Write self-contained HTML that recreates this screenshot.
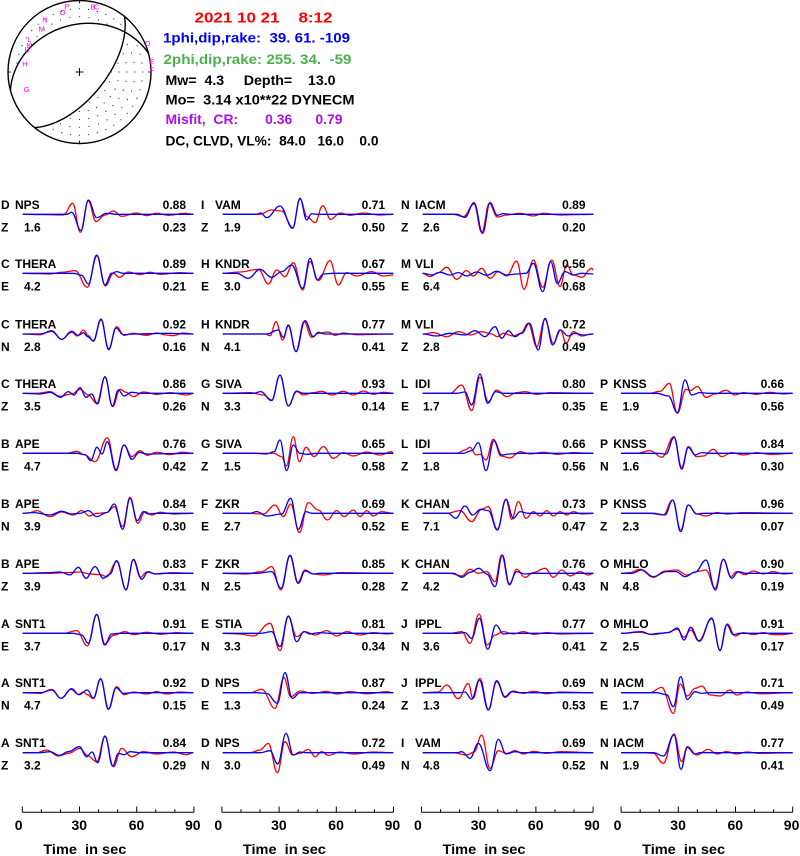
<!DOCTYPE html>
<html><head><meta charset="utf-8">
<style>
html,body{margin:0;padding:0;background:#fff;}
svg{display:block;}
text{font-family:"Liberation Sans",Arial,Helvetica,sans-serif;}
.lab text{font-size:12px;font-weight:bold;fill:#000;}
.lab .r{text-anchor:end;}
.hd text{font-size:14px;font-weight:bold;white-space:pre;}
.hd text.big{font-size:15px;}
.ax text{font-size:14px;font-weight:bold;fill:#000;}
.ax .c{text-anchor:middle;}
.ax .t{white-space:pre;}
.st text{font-size:7.5px;fill:#ff00ff;text-anchor:middle;}
</style></head>
<body>
<svg id="s" width="800" height="856" viewBox="0 0 800 856" xmlns="http://www.w3.org/2000/svg">
<rect width="800" height="856" fill="#fff"/>
<g id="bb"></g>
<g class="st">
<text x="66.7" y="9.2">P</text><text x="62.7" y="14.8">O</text><text x="93" y="9.5">B</text><text x="96.5" y="9.5">C</text>
<text x="45" y="22.5">N</text><text x="41.7" y="31.5">M</text><text x="29.3" y="41.8">L</text><text x="29.3" y="48.2">K</text>
<text x="25.7" y="51.8">I</text><text x="27.5" y="52.5">J</text><text x="25" y="66.5">H</text><text x="26.7" y="91.8">G</text>
<text x="147.7" y="45.8">D</text><text x="151.7" y="64.2">E</text><text x="151.7" y="72.5">F</text>
</g>
<g class="hd">
<text class="big" xml:space="preserve" x="194.5" y="22.7" fill="#ff0000" textLength="138" lengthAdjust="spacingAndGlyphs">2021 10 21    8:12</text>
<text xml:space="preserve" x="163" y="42.7" fill="#0000ff" textLength="187" lengthAdjust="spacingAndGlyphs">1phi,dip,rake:  39. 61. -109</text>
<text xml:space="preserve" x="163.5" y="64" fill="#4cb04c" textLength="188" lengthAdjust="spacingAndGlyphs">2phi,dip,rake: 255. 34.  -59</text>
<text xml:space="preserve" x="165.5" y="85" fill="#000" textLength="170" lengthAdjust="spacingAndGlyphs">Mw=  4.3     Depth=    13.0</text>
<text xml:space="preserve" x="165.5" y="104.3" fill="#000" textLength="189" lengthAdjust="spacingAndGlyphs">Mo=  3.14 x10**22 DYNECM</text>
<text xml:space="preserve" x="165.5" y="124" fill="#aa11ee" textLength="177" lengthAdjust="spacingAndGlyphs">Misfit,  CR:       0.36      0.79</text>
<text xml:space="preserve" x="165.5" y="145.5" fill="#000" textLength="213" lengthAdjust="spacingAndGlyphs">DC, CLVD, VL%:  84.0   16.0    0.0</text>
</g>

<g id="tr"></g>

<!-- column 1 -->
<g class="lab" transform="translate(0,214.3)"><text x="1" y="-5.5">D</text><text x="15" y="-5.5">NPS</text><text class="r" x="186" y="-5.5">0.88</text><text x="1" y="17">Z</text><text x="24" y="17">1.6</text><text class="r" x="186" y="17">0.23</text></g>
<g class="lab" transform="translate(0,273.3)"><text x="1" y="-5.5">C</text><text x="15" y="-5.5">THERA</text><text class="r" x="186" y="-5.5">0.89</text><text x="1" y="17">E</text><text x="24" y="17">4.2</text><text class="r" x="186" y="17">0.21</text></g>
<g class="lab" transform="translate(0,334)"><text x="1" y="-5.5">C</text><text x="15" y="-5.5">THERA</text><text class="r" x="186" y="-5.5">0.92</text><text x="1" y="17">N</text><text x="24" y="17">2.8</text><text class="r" x="186" y="17">0.16</text></g>
<g class="lab" transform="translate(0,393.3)"><text x="1" y="-5.5">C</text><text x="15" y="-5.5">THERA</text><text class="r" x="186" y="-5.5">0.86</text><text x="1" y="17">Z</text><text x="24" y="17">3.5</text><text class="r" x="186" y="17">0.26</text></g>
<g class="lab" transform="translate(0,453.3)"><text x="1" y="-5.5">B</text><text x="15" y="-5.5">APE</text><text class="r" x="186" y="-5.5">0.76</text><text x="1" y="17">E</text><text x="24" y="17">4.7</text><text class="r" x="186" y="17">0.42</text></g>
<g class="lab" transform="translate(0,513.3)"><text x="1" y="-5.5">B</text><text x="15" y="-5.5">APE</text><text class="r" x="186" y="-5.5">0.84</text><text x="1" y="17">N</text><text x="24" y="17">3.9</text><text class="r" x="186" y="17">0.30</text></g>
<g class="lab" transform="translate(0,573.3)"><text x="1" y="-5.5">B</text><text x="15" y="-5.5">APE</text><text class="r" x="186" y="-5.5">0.83</text><text x="1" y="17">Z</text><text x="24" y="17">3.9</text><text class="r" x="186" y="17">0.31</text></g>
<g class="lab" transform="translate(0,633.3)"><text x="1" y="-5.5">A</text><text x="15" y="-5.5">SNT1</text><text class="r" x="186" y="-5.5">0.91</text><text x="1" y="17">E</text><text x="24" y="17">3.7</text><text class="r" x="186" y="17">0.17</text></g>
<g class="lab" transform="translate(0,692.7)"><text x="1" y="-5.5">A</text><text x="15" y="-5.5">SNT1</text><text class="r" x="186" y="-5.5">0.92</text><text x="1" y="17">N</text><text x="24" y="17">4.7</text><text class="r" x="186" y="17">0.15</text></g>
<g class="lab" transform="translate(0,752.7)"><text x="1" y="-5.5">A</text><text x="15" y="-5.5">SNT1</text><text class="r" x="186" y="-5.5">0.84</text><text x="1" y="17">Z</text><text x="24" y="17">3.2</text><text class="r" x="186" y="17">0.29</text></g>
<!-- column 2 -->
<g class="lab" transform="translate(200,214.3)"><text x="1" y="-5.5">I</text><text x="15" y="-5.5">VAM</text><text class="r" x="185" y="-5.5">0.71</text><text x="1" y="17">Z</text><text x="24" y="17">1.9</text><text class="r" x="185" y="17">0.50</text></g>
<g class="lab" transform="translate(200,273.3)"><text x="1" y="-5.5">H</text><text x="15" y="-5.5">KNDR</text><text class="r" x="185" y="-5.5">0.67</text><text x="1" y="17">E</text><text x="24" y="17">3.0</text><text class="r" x="185" y="17">0.55</text></g>
<g class="lab" transform="translate(200,334)"><text x="1" y="-5.5">H</text><text x="15" y="-5.5">KNDR</text><text class="r" x="185" y="-5.5">0.77</text><text x="1" y="17">N</text><text x="24" y="17">4.1</text><text class="r" x="185" y="17">0.41</text></g>
<g class="lab" transform="translate(200,393.3)"><text x="1" y="-5.5">G</text><text x="15" y="-5.5">SIVA</text><text class="r" x="185" y="-5.5">0.93</text><text x="1" y="17">N</text><text x="24" y="17">3.3</text><text class="r" x="185" y="17">0.14</text></g>
<g class="lab" transform="translate(200,453.3)"><text x="1" y="-5.5">G</text><text x="15" y="-5.5">SIVA</text><text class="r" x="185" y="-5.5">0.65</text><text x="1" y="17">Z</text><text x="24" y="17">1.5</text><text class="r" x="185" y="17">0.58</text></g>
<g class="lab" transform="translate(200,513.3)"><text x="1" y="-5.5">F</text><text x="15" y="-5.5">ZKR</text><text class="r" x="185" y="-5.5">0.69</text><text x="1" y="17">E</text><text x="24" y="17">2.7</text><text class="r" x="185" y="17">0.52</text></g>
<g class="lab" transform="translate(200,573.3)"><text x="1" y="-5.5">F</text><text x="15" y="-5.5">ZKR</text><text class="r" x="185" y="-5.5">0.85</text><text x="1" y="17">N</text><text x="24" y="17">2.5</text><text class="r" x="185" y="17">0.28</text></g>
<g class="lab" transform="translate(200,633.3)"><text x="1" y="-5.5">E</text><text x="15" y="-5.5">STIA</text><text class="r" x="185" y="-5.5">0.81</text><text x="1" y="17">N</text><text x="24" y="17">3.3</text><text class="r" x="185" y="17">0.34</text></g>
<g class="lab" transform="translate(200,692.7)"><text x="1" y="-5.5">D</text><text x="15" y="-5.5">NPS</text><text class="r" x="185" y="-5.5">0.87</text><text x="1" y="17">E</text><text x="24" y="17">1.3</text><text class="r" x="185" y="17">0.24</text></g>
<g class="lab" transform="translate(200,752.7)"><text x="1" y="-5.5">D</text><text x="15" y="-5.5">NPS</text><text class="r" x="185" y="-5.5">0.72</text><text x="1" y="17">N</text><text x="24" y="17">3.0</text><text class="r" x="185" y="17">0.49</text></g>
<!-- column 3 -->
<g class="lab" transform="translate(400,214.3)"><text x="1" y="-5.5">N</text><text x="15" y="-5.5">IACM</text><text class="r" x="185.5" y="-5.5">0.89</text><text x="1" y="17">Z</text><text x="23" y="17">2.6</text><text class="r" x="185.5" y="17">0.20</text></g>
<g class="lab" transform="translate(400,273.3)"><text x="1" y="-5.5">M</text><text x="15" y="-5.5">VLI</text><text class="r" x="185.5" y="-5.5">0.56</text><text x="1" y="17">E</text><text x="23" y="17">6.4</text><text class="r" x="185.5" y="17">0.68</text></g>
<g class="lab" transform="translate(400,334)"><text x="1" y="-5.5">M</text><text x="15" y="-5.5">VLI</text><text class="r" x="185.5" y="-5.5">0.72</text><text x="1" y="17">Z</text><text x="23" y="17">2.8</text><text class="r" x="185.5" y="17">0.49</text></g>
<g class="lab" transform="translate(400,393.3)"><text x="1" y="-5.5">L</text><text x="15" y="-5.5">IDI</text><text class="r" x="185.5" y="-5.5">0.80</text><text x="1" y="17">E</text><text x="23" y="17">1.7</text><text class="r" x="185.5" y="17">0.35</text></g>
<g class="lab" transform="translate(400,453.3)"><text x="1" y="-5.5">L</text><text x="15" y="-5.5">IDI</text><text class="r" x="185.5" y="-5.5">0.66</text><text x="1" y="17">Z</text><text x="23" y="17">1.8</text><text class="r" x="185.5" y="17">0.56</text></g>
<g class="lab" transform="translate(400,513.3)"><text x="1" y="-5.5">K</text><text x="15" y="-5.5">CHAN</text><text class="r" x="185.5" y="-5.5">0.73</text><text x="1" y="17">E</text><text x="23" y="17">7.1</text><text class="r" x="185.5" y="17">0.47</text></g>
<g class="lab" transform="translate(400,573.3)"><text x="1" y="-5.5">K</text><text x="15" y="-5.5">CHAN</text><text class="r" x="185.5" y="-5.5">0.76</text><text x="1" y="17">Z</text><text x="23" y="17">4.2</text><text class="r" x="185.5" y="17">0.43</text></g>
<g class="lab" transform="translate(400,633.3)"><text x="1" y="-5.5">J</text><text x="15" y="-5.5">IPPL</text><text class="r" x="185.5" y="-5.5">0.77</text><text x="1" y="17">N</text><text x="23" y="17">3.6</text><text class="r" x="185.5" y="17">0.41</text></g>
<g class="lab" transform="translate(400,692.7)"><text x="1" y="-5.5">J</text><text x="15" y="-5.5">IPPL</text><text class="r" x="185.5" y="-5.5">0.69</text><text x="1" y="17">Z</text><text x="23" y="17">1.3</text><text class="r" x="185.5" y="17">0.53</text></g>
<g class="lab" transform="translate(400,752.7)"><text x="1" y="-5.5">I</text><text x="15" y="-5.5">VAM</text><text class="r" x="185.5" y="-5.5">0.69</text><text x="1" y="17">N</text><text x="23" y="17">4.8</text><text class="r" x="185.5" y="17">0.52</text></g>
<!-- column 4 -->
<g class="lab" transform="translate(599,393.3)"><text x="1" y="-5.5">P</text><text x="14.3" y="-5.5">KNSS</text><text class="r" x="185" y="-5.5">0.66</text><text x="1" y="17">E</text><text x="23.5" y="17">1.9</text><text class="r" x="185" y="17">0.56</text></g>
<g class="lab" transform="translate(599,453.3)"><text x="1" y="-5.5">P</text><text x="14.3" y="-5.5">KNSS</text><text class="r" x="185" y="-5.5">0.84</text><text x="1" y="17">N</text><text x="23.5" y="17">1.6</text><text class="r" x="185" y="17">0.30</text></g>
<g class="lab" transform="translate(599,513.3)"><text x="1" y="-5.5">P</text><text x="14.3" y="-5.5">KNSS</text><text class="r" x="185" y="-5.5">0.96</text><text x="1" y="17">Z</text><text x="23.5" y="17">2.3</text><text class="r" x="185" y="17">0.07</text></g>
<g class="lab" transform="translate(599,573.3)"><text x="1" y="-5.5">O</text><text x="14.3" y="-5.5">MHLO</text><text class="r" x="185" y="-5.5">0.90</text><text x="1" y="17">N</text><text x="23.5" y="17">4.8</text><text class="r" x="185" y="17">0.19</text></g>
<g class="lab" transform="translate(599,633.3)"><text x="1" y="-5.5">O</text><text x="14.3" y="-5.5">MHLO</text><text class="r" x="185" y="-5.5">0.91</text><text x="1" y="17">Z</text><text x="23.5" y="17">2.5</text><text class="r" x="185" y="17">0.17</text></g>
<g class="lab" transform="translate(599,692.7)"><text x="1" y="-5.5">N</text><text x="14.3" y="-5.5">IACM</text><text class="r" x="185" y="-5.5">0.71</text><text x="1" y="17">E</text><text x="23.5" y="17">1.7</text><text class="r" x="185" y="17">0.49</text></g>
<g class="lab" transform="translate(599,752.7)"><text x="1" y="-5.5">N</text><text x="14.3" y="-5.5">IACM</text><text class="r" x="185" y="-5.5">0.77</text><text x="1" y="17">N</text><text x="23.5" y="17">1.9</text><text class="r" x="185" y="17">0.41</text></g>

<!-- axes -->
<g class="ax" transform="translate(0,0)"><text class="c" x="18.7" y="830">0</text><text class="c" x="79.3" y="830">30</text><text class="c" x="136.5" y="830">60</text><text class="c" x="192.8" y="830">90</text><text class="t" xml:space="preserve" x="43.3" y="854" textLength="83" lengthAdjust="spacingAndGlyphs">Time  in sec</text></g>
<g class="ax" transform="translate(199.6,0)"><text class="c" x="18.7" y="830">0</text><text class="c" x="79.3" y="830">30</text><text class="c" x="136.5" y="830">60</text><text class="c" x="192.8" y="830">90</text><text class="t" xml:space="preserve" x="43.3" y="854" textLength="83" lengthAdjust="spacingAndGlyphs">Time  in sec</text></g>
<g class="ax" transform="translate(399.2,0)"><text class="c" x="18.7" y="830">0</text><text class="c" x="79.3" y="830">30</text><text class="c" x="136.5" y="830">60</text><text class="c" x="192.8" y="830">90</text><text class="t" xml:space="preserve" x="43.3" y="854" textLength="83" lengthAdjust="spacingAndGlyphs">Time  in sec</text></g>
<g class="ax" transform="translate(598.8,0)"><text class="c" x="18.7" y="830">0</text><text class="c" x="79.3" y="830">30</text><text class="c" x="136.5" y="830">60</text><text class="c" x="192.8" y="830">90</text><text class="t" xml:space="preserve" x="43.3" y="854" textLength="83" lengthAdjust="spacingAndGlyphs">Time  in sec</text></g>
<g id="axl"></g>
</svg>
<script>
(function(){
var NS="http://www.w3.org/2000/svg";
function el(tag,attrs,parent){var e=document.createElementNS(NS,tag);for(var k in attrs)e.setAttribute(k,attrs[k]);parent.appendChild(e);return e;}
var d2r=Math.PI/180;
/* ---------- beachball ---------- */
var bb=document.getElementById("bb");
var cx=79.5,cy=72,R=71.5;
function vecs(s,d){s*=d2r;d*=d2r;
 var sv=[Math.cos(s),Math.sin(s),0];
 var dv=[-Math.sin(s)*Math.cos(d),Math.cos(s)*Math.cos(d),Math.sin(d)];
 var n=[sv[1]*dv[2]-sv[2]*dv[1],sv[2]*dv[0]-sv[0]*dv[2],sv[0]*dv[1]-sv[1]*dv[0]];
 return {sv:sv,dv:dv,n:n};}
function proj(v){var p=Math.asin(Math.max(-1,Math.min(1,v[2])));var az=Math.atan2(v[1],v[0]);
 var r=R*Math.SQRT2*Math.sin((Math.PI/2-p)/2);return [cx+r*Math.sin(az),cy-r*Math.cos(az)];}
function plane(s,d){var o=vecs(s,d),pts=[];
 for(var t=0;t<=180;t+=1.5){var a=t*d2r;var v=[0,1,2].map(function(i){return Math.cos(a)*o.sv[i]+Math.sin(a)*o.dv[i];});
  var q=proj(v);pts.push(q[0].toFixed(2)+","+q[1].toFixed(2));}
 return "M"+pts.join(" L");}
var P1=vecs(39,61),P2=vecs(255,34);
function inv(X,Y){var dx=(X-cx)/R,dy=(Y-cy)/R;var rr=Math.sqrt(dx*dx+dy*dy);
 var th=2*Math.asin(Math.min(1,rr/Math.SQRT2));var az=Math.atan2(dx,-dy);
 return [Math.sin(th)*Math.cos(az),Math.sin(th)*Math.sin(az),Math.cos(th)];}
function dot(a,b){return a[0]*b[0]+a[1]*b[1]+a[2]*b[2];}
function sgn(v){return Math.sign(dot(v,P1.n))*Math.sign(dot(v,P2.n));}
var refv=inv(cx+0.75*R*Math.sin(130*d2r),cy-0.75*R*Math.cos(130*d2r));
var ref=sgn(refv);
var step=7.9;
for(var k=1;k<=9;k++){
 var r=k*step; if(r>R-1.5) break;
 var n=4*Math.max(1,Math.round(2*Math.PI*r/(9.2*4)));
 for(var m=0;m<n;m++){
  var a=2*Math.PI*m/n;
  var X=cx+r*Math.sin(a),Y=cy-r*Math.cos(a);
  if(sgn(inv(X,Y))===ref) el("circle",{cx:X.toFixed(2),cy:Y.toFixed(2),r:0.6,fill:"#333"},bb);
 }
}
el("circle",{cx:cx,cy:cy,r:R,fill:"none",stroke:"#000","stroke-width":1.4},bb);
el("path",{d:plane(39,61),fill:"none",stroke:"#000","stroke-width":1.4},bb);
el("path",{d:plane(255,34),fill:"none",stroke:"#000","stroke-width":1.4},bb);
el("path",{d:"M"+(cx-4)+","+cy+" H"+(cx+4)+" M"+cx+","+(cy-4)+" V"+(cy+4),stroke:"#000","stroke-width":1},bb);
el("path",{d:"M"+cx+","+(cy-R)+" v3 M"+cx+","+(cy+R)+" v-3 M"+(cx-R)+","+cy+" h3 M"+(cx+R)+","+cy+" h-3",stroke:"#000","stroke-width":0.8},bb);
/* ---------- axes ---------- */
var axl=document.getElementById("axl");
for(var c=0;c<4;c++){var x0=22.3+199.6*c;var w=171.6;
 var d="M"+x0+",812.3 H"+(x0+w);
 for(var k=0;k<=9;k++){var xx=x0+w*k/9;d+=" M"+xx.toFixed(2)+",812.3 V"+(k%3==0?806.5:809.3);}
 el("path",{d:d,stroke:"#000","stroke-width":1,fill:"none"},axl);
}
/* ---------- traces ---------- */
var B=[214.3,273.3,334,393.3,453.3,513.3,573.3,633.3,692.7,752.7];
var OX=[0,200,400,600];
var T=[
[0,0,[68,0,190,2,218,-33,241,54,265,-40,288,22,315,2,340,-10,365,6,410,-4,440,4,470,-3,505,3,555,-3,580,0],[68,0,200,0,215,-6,243,49,265,-43,290,10,320,-3,350,0,580,0]],
[0,1,[68,0,150,2,185,-3,225,-8,262,42,291,-52,316,38,340,0,358,12,385,-4,420,4,450,-3,480,3,540,-2,580,0],[68,0,220,0,245,6,265,32,290,-55,315,35,335,0,350,-5,370,0,580,0]],
[0,2,[68,0,120,2,155,-10,185,16,215,-5,232,6,250,-12,265,5,280,22,303,-42,326,44,350,-22,372,4,400,-2,440,4,470,-3,500,3,520,5,550,-3,580,0],[68,0,120,0,155,-8,185,16,215,-8,235,4,250,-4,263,8,280,20,303,-45,326,47,348,-18,370,2,400,0,500,-2,580,0]],
[0,3,[68,0,110,0,150,-5,180,9,215,2,240,-12,265,5,290,30,315,-48,338,40,360,-12,378,-3,400,10,430,-4,470,3,510,-2,560,5,580,0],[68,0,120,2,150,-3,182,12,205,-5,222,5,240,-17,258,12,275,2,292,32,315,-50,337,38,355,-10,372,8,395,-3,420,0,580,0]],
[0,4,[68,0,200,0,230,-6,252,4,285,25,322,-47,348,48,372,-25,395,10,420,-8,442,6,470,-3,510,4,545,-3,580,0],[68,0,230,0,255,4,272,22,291,-18,306,2,322,-35,348,52,372,-25,396,18,418,-3,440,2,580,0]],
[0,5,[68,0,90,-2,110,-8,150,10,185,-4,220,5,245,-8,268,8,290,0,320,-2,343,-20,368,40,390,-48,413,30,435,-5,455,5,480,-3,520,2,580,0],[68,0,100,-2,150,5,185,-6,215,2,240,0,265,-8,290,10,320,-2,343,-28,368,48,390,-45,412,22,430,-5,445,2,470,0,580,0]],
[0,6,[68,0,150,0,200,-2,240,-4,270,2,300,4,320,10,350,-35,378,48,400,-40,421,12,440,-4,470,2,520,-2,580,0],[68,0,150,-2,180,-4,210,5,235,-18,258,15,285,-20,310,15,330,2,350,-38,378,50,400,-42,425,18,445,-5,465,2,490,0,580,0]],
[0,7,[68,0,190,0,230,-8,262,38,290,-55,315,32,340,6,375,-5,400,4,440,-3,480,3,530,-2,580,0],[68,0,220,0,245,5,265,30,290,-57,314,35,335,2,360,0,580,0]],
[0,8,[68,0,120,2,155,-10,183,17,213,-10,235,5,250,-2,262,6,280,18,302,-40,326,48,350,-18,372,6,400,-2,440,4,470,-3,500,4,540,-2,580,0],[68,0,120,0,155,-8,183,17,215,-12,237,6,262,-8,280,16,302,-42,325,50,348,-15,370,2,400,0,580,0]],
[0,9,[68,0,110,0,140,-8,175,10,205,2,240,-13,262,8,290,27,315,-48,340,42,365,-13,395,12,430,-3,470,4,520,-2,560,6,580,0],[68,0,120,0,150,-3,178,8,205,-3,238,-18,260,12,276,-2,293,30,315,-50,338,40,355,2,372,6,390,-3,420,0,580,0]],
[1,0,[68,0,180,0,213,-13,245,-10,278,40,300,-46,322,8,345,25,368,-26,392,15,420,-4,450,3,490,-4,540,2,580,0],[68,0,170,0,182,-4,200,10,240,-25,278,42,300,-48,320,17,335,-2,350,0,580,0]],
[1,1,[68,0,120,-4,175,-12,205,32,230,-10,255,10,280,-32,308,50,330,-35,355,22,390,-38,415,35,440,-2,470,8,515,-5,550,8,580,5],[68,0,110,0,145,15,180,-12,215,12,245,-5,275,-25,308,45,330,-45,352,20,370,2,400,0,580,0]],
[1,2,[68,0,195,0,210,5,228,-37,248,18,265,-24,288,52,312,-37,335,10,355,-2,385,-6,405,4,430,-3,470,2,580,0],[68,0,200,0,235,-12,250,10,265,-27,288,53,315,-40,340,8,355,-5,375,0,580,0]],
[1,3,[68,0,150,-2,190,5,215,20,240,-55,265,38,290,-5,310,5,340,-2,365,-6,395,5,430,-6,460,5,490,-7,520,3,550,-3,580,0],[68,0,160,0,182,-5,215,22,240,-55,265,38,290,-7,310,0,580,0]],
[1,4,[68,0,150,0,220,0,245,10,259,38,280,-50,298,25,318,-18,342,10,370,-20,400,15,430,-2,460,8,500,-4,540,5,575,-5,580,0],[68,0,160,0,200,2,222,-5,240,-40,260,52,280,-25,300,0,320,3,350,0,580,0]],
[1,5,[68,0,140,0,190,2,225,-25,250,10,272,-28,298,58,325,-32,355,-10,382,20,410,-8,432,10,460,-10,480,10,500,-8,520,8,545,-5,580,0],[68,0,150,0,170,-5,200,8,245,2,272,-45,295,48,318,-5,335,0,580,0]],
[1,6,[68,0,140,2,185,-5,215,-20,243,50,270,-52,293,28,315,-10,340,2,370,5,420,-2,580,0],[68,0,170,0,215,-5,243,45,270,-54,295,30,315,-7,340,2,360,0,580,0]],
[1,7,[68,0,120,2,160,8,210,-30,240,52,265,-50,290,10,315,-5,345,5,380,-8,410,8,440,-5,480,5,520,-2,560,2,580,0],[68,0,180,0,215,-5,240,40,265,-52,290,25,312,-5,330,2,360,-2,390,0,580,0]],
[1,8,[68,0,150,0,185,-10,225,47,252,-45,272,12,300,-5,340,2,380,-4,410,4,450,-3,500,3,560,-3,580,0],[68,0,170,0,200,2,232,32,255,-60,277,17,300,0,580,0]],
[1,9,[68,0,150,0,180,-8,205,-28,232,60,255,-33,278,7,300,2,325,-10,345,12,365,-3,385,8,420,-2,460,4,520,-2,580,0],[68,0,180,0,210,-6,233,34,258,-58,280,7,300,-2,320,0,580,0]],
[2,0,[68,0,160,0,190,7,222,-31,245,55,268,-33,292,8,320,2,360,-3,400,5,430,-3,480,2,580,0],[68,0,170,0,195,9,222,-35,248,57,270,-35,292,3,310,-2,330,0,580,0]],
[2,1,[68,0,90,10,115,-2,140,-18,170,18,200,-8,220,8,245,-15,270,15,295,-5,320,8,350,-37,372,48,400,-40,428,42,455,-40,480,40,500,-25,520,5,545,12,575,-15,580,-10],[68,0,95,5,120,-3,150,5,175,-2,200,8,230,-4,260,6,290,-6,320,5,350,2,378,0,400,-30,428,55,452,-35,472,30,495,-5,520,5,545,0,580,2]],
[2,2,[68,0,100,-4,140,8,175,-7,210,3,245,-7,275,0,292,8,310,-2,340,6,362,-2,385,-32,410,38,435,-44,460,28,482,-12,498,28,520,-7,545,6,575,0,580,0],[68,0,110,6,150,-2,195,3,225,-10,255,8,285,-22,305,13,325,-10,345,8,365,-2,388,-32,415,48,435,-47,458,33,480,-12,505,6,525,-2,550,3,580,0]],
[2,3,[68,0,150,0,185,-25,215,52,240,-48,265,25,290,-10,320,10,350,-2,375,-5,410,3,450,-2,580,0],[68,0,170,0,195,-4,215,35,240,-58,263,30,287,-5,310,0,580,0]],
[2,4,[68,0,170,0,195,-10,210,-18,228,5,240,3,258,20,280,-42,303,8,330,14,360,-5,390,2,430,-3,470,3,520,-2,580,0],[68,0,190,0,215,-8,235,-32,258,52,282,-38,305,5,330,2,360,0,580,0]],
[2,5,[68,0,140,0,180,-8,215,25,245,-12,265,-20,292,48,318,-42,335,18,355,-35,378,15,400,-5,420,8,440,-8,460,8,480,-5,500,5,520,-5,545,2,580,0],[68,0,145,0,167,15,195,-22,218,5,242,-12,265,-8,292,50,318,-42,340,15,360,-5,385,0,580,0]],
[2,6,[68,0,150,0,185,8,210,-12,235,0,260,-5,285,25,305,-55,328,35,350,-12,375,12,400,-2,435,-15,460,12,485,-10,510,8,540,-5,565,5,580,0],[68,0,160,0,185,12,210,-3,237,-15,260,2,285,40,307,-55,328,32,350,-5,375,2,400,0,580,0]],
[2,7,[68,0,150,0,185,-5,210,30,237,-58,262,35,285,5,310,-5,340,2,370,-5,400,3,440,-2,480,2,580,0],[68,0,170,0,195,-2,215,15,238,-45,263,48,288,-25,310,2,330,0,580,0]],
[2,8,[68,0,115,-2,140,-23,175,18,205,-28,219,17,240,-43,265,50,290,-33,315,14,340,-5,370,2,400,-4,440,3,480,-2,580,0],[68,0,180,0,195,-2,215,20,238,-38,265,52,290,-36,315,12,335,-3,360,0,580,0]],
[2,9,[68,0,160,0,200,7,222,-2,245,-53,270,47,295,-6,320,2,345,-6,370,4,400,-4,440,2,480,-3,580,0],[68,0,170,0,185,-3,210,17,235,-28,270,54,295,-40,318,4,345,-3,370,0,580,0]],
[3,3,[63,0,150,0,180,-6,208,-30,232,60,258,-12,270,-8,292,-20,318,12,345,2,378,-9,405,5,430,-2,470,3,510,-3,550,2,578,0],[63,0,170,0,205,8,232,58,255,-40,275,5,300,-2,330,0,578,0]],
[3,4,[63,0,110,0,150,-8,185,12,222,-50,245,42,265,-20,290,10,310,8,340,-12,365,10,395,-2,430,5,470,-2,510,3,578,0],[63,0,170,0,198,2,222,-48,245,48,265,-18,285,5,305,-2,330,0,578,0]],
[3,5,[63,0,150,0,190,5,218,-40,242,50,265,-25,290,2,318,8,350,-2,380,2,430,-2,578,0],[63,0,160,0,195,5,218,-40,242,55,265,-25,290,2,310,0,578,0]],
[3,6,[63,0,90,-2,120,-12,160,12,195,-7,230,-10,260,5,290,-5,318,-10,345,45,370,-42,392,10,410,-5,435,4,460,-7,490,2,520,-5,550,2,578,0],[63,0,95,0,125,-10,160,10,200,-5,228,-5,255,10,285,-3,318,-40,346,50,370,-42,395,15,415,-5,440,0,578,0]],
[3,7,[63,0,120,-3,160,4,200,-2,232,-12,252,12,272,-10,296,22,335,-43,360,50,382,-28,405,8,430,-2,460,4,490,-2,520,4,550,4,578,0],[63,0,125,-5,150,3,180,0,205,-2,232,-16,252,20,272,-18,298,24,335,-46,360,52,380,-26,400,4,420,0,578,0]],
[3,8,[63,0,150,0,185,-16,220,62,241,-26,262,10,285,-13,305,-20,330,7,360,10,390,-8,410,7,440,-2,480,3,578,0],[63,0,170,0,200,6,220,42,242,-48,262,20,285,-3,305,2,330,0,578,0]],
[3,9,[63,0,130,0,160,2,190,32,222,-56,245,27,262,-18,290,7,325,-10,350,4,380,-3,410,4,440,-2,480,2,578,0],[63,0,160,0,190,10,222,-53,243,50,262,-16,285,4,300,0,578,0]]
];
var tr=document.getElementById("tr");
function path(a,ox,by){var xs=[],ys=[];for(var i=0;i<a.length;i+=2){xs.push(ox+a[i]/3);ys.push(by+a[i+1]/3);}
 var d="M"+xs[0].toFixed(2)+","+ys[0].toFixed(2);
 for(var i=1;i<xs.length;i++){var dx=xs[i]-xs[i-1];
  d+=" C"+(xs[i-1]+dx*0.4).toFixed(2)+","+ys[i-1].toFixed(2)+" "+(xs[i]-dx*0.4).toFixed(2)+","+ys[i].toFixed(2)+" "+xs[i].toFixed(2)+","+ys[i].toFixed(2);}
 return d;}
T.forEach(function(p){var ox=OX[p[0]],by=B[p[1]];
 el("path",{d:path(p[2],ox,by),fill:"none",stroke:"#ff0000","stroke-width":1.3,"stroke-linejoin":"round"},tr);});
T.forEach(function(p){var ox=OX[p[0]],by=B[p[1]];
 el("path",{d:path(p[3],ox,by),fill:"none",stroke:"#0000ff","stroke-width":1.3,"stroke-linejoin":"round"},tr);});
})();
</script>
</body></html>
